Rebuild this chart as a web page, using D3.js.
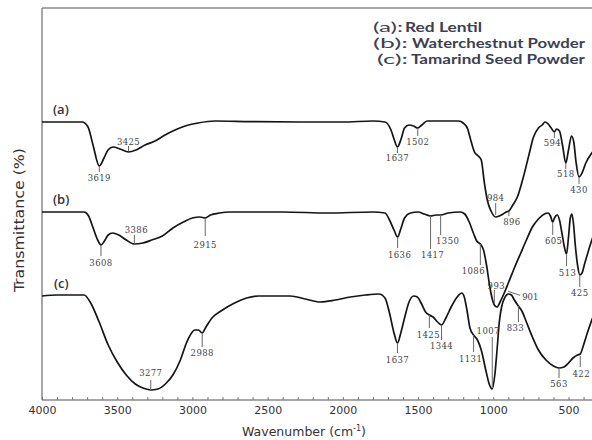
<!DOCTYPE html>
<html><head><meta charset="utf-8">
<script src="https://cdn.jsdelivr.net/npm/d3@7"></script>
<style>
html,body{margin:0;padding:0;background:#fff;}
svg{display:block;}
</style>
</head><body>
<svg id="chart" width="592" height="440"></svg>
<script>
// ---------- DATA (wavenumber cm^-1, transmittance in arbitrary % units) ----------
const seriesNames = ["Red Lentil", "Waterchestnut Powder", "Tamarind Seed Powder"];
const seriesKeys = ["(a)", "(b)", "(c)"];
const xTickLabels = [4000, 3500, 3000, 2500, 2000, 1500, 1000, 500];

const curveA = [
 [4000,69.5],[3734,69.5],[3694,68.25],[3661,63.75],[3619,58.5],[3588,60.5],[3561,62.5],[3528,63.25],
 [3481,62.75],[3425,62],[3375,62.5],[3315,63.75],[3249,64.75],[3182,66.25],[3116,67.5],[3049,68.5],
 [2963,69.25],[2850,69.75],[2617,69.6],[2285,69.5],[2000,69.5],[1800,69.75],[1720,69.5],[1680,67.5],
 [1660,65.25],[1637,63.25],[1615,65],[1590,68],[1560,68.75],[1530,68.5],[1502,68],[1475,68.75],
 [1440,69.75],[1300,69.75],[1230,69.75],[1200,69.25],[1170,67.75],[1150,65],[1125,62],[1100,61],
 [1080,60],[1060,54.5],[1040,50],[1015,47.25],[984,45.75],[960,46],[935,46.5],[915,47],[896,47.25],
 [870,48.75],[840,50.75],[800,55.75],[760,61.75],[735,65.5],[700,68],[675,68.75],[656,69.5],[635,69],
 [615,68],[594,67],[580,67.75],[560,67.25],[540,63.75],[518,59.25],[500,62.5],[480,66],[465,64.5],
 [450,59.5],[430,55.75],[410,56.75],[385,59.25],[340,62],[300,63.75]
];
const curveB = [
 [4000,47],[3720,47],[3690,46],[3660,43],[3630,40],[3608,38.75],[3585,39.75],[3560,41.25],[3530,41.75],
 [3490,41.25],[3440,40],[3386,39],[3330,39.25],[3270,40],[3200,41],[3130,43],[3060,44.5],[3000,45.5],
 [2950,45.75],[2915,45.5],[2880,46.25],[2820,46.75],[2750,47],[2400,47],[2100,46.75],[1800,47],
 [1720,46.75],[1690,45],[1660,42.5],[1636,40.75],[1615,42.75],[1590,45.5],[1550,46.75],[1500,47],
 [1460,46.5],[1417,46],[1380,46.25],[1350,46.25],[1300,46.75],[1220,47],[1190,46.5],[1160,44.5],
 [1130,41.5],[1110,39.75],[1086,39],[1065,37.5],[1045,33.75],[1025,28.75],[1005,25],[993,23.75],
 [975,23.25],[955,24.5],[930,26.5],[900,29.25],[860,33],[820,36.5],[780,40],[740,43.25],[700,45.25],
 [660,46.5],[635,46.75],[620,46],[605,44.5],[590,45.75],[575,46.25],[560,45],[545,42],[530,38.75],
 [513,36.5],[500,40.75],[488,45.5],[478,46.5],[468,44.5],[455,38.75],[440,33.75],[425,31.25],
 [410,31.75],[395,33.75],[370,37],[340,40.5],[300,43.75]
];
const curveC = [
 [4000,26],[3900,26.25],[3720,26.25],[3680,24.5],[3620,19.5],[3560,13.75],[3500,9.5],[3440,6.25],
 [3380,4],[3320,2.875],[3277,2.5],[3230,2.75],[3180,4],[3130,6.25],[3080,10],[3040,14.25],[3010,16.5],
 [2985,17.5],[2960,17.5],[2935,16.75],[2910,18.25],[2870,20.5],[2800,22.5],[2720,24.25],[2640,25.5],
 [2560,26],[2450,26],[2350,26],[2250,25.25],[2150,24.5],[2050,25],[1950,25.75],[1850,26.25],
 [1760,26.5],[1720,25.5],[1690,21.75],[1660,16.75],[1637,14.25],[1615,16.75],[1590,20.5],[1560,24.5],
 [1530,26],[1505,25.75],[1480,24.25],[1450,22],[1425,21.25],[1400,20.75],[1370,19.5],[1344,18.75],
 [1315,20.5],[1280,23.25],[1240,25.75],[1210,26.75],[1195,26],[1175,22.5],[1155,18],[1131,16.25],
 [1105,15],[1080,12.5],[1050,7.5],[1025,3.75],[1007,2.75],[990,6.25],[975,12.5],[960,19.5],
 [945,23.25],[925,25.5],[900,26.5],[880,26.25],[860,25],[833,23.5],[810,22.25],[780,19.5],
 [740,15.75],[700,12.5],[650,10],[600,8.5],[563,8],[530,8.25],[500,9.25],[470,10.5],[440,11.25],
 [422,11.5],[400,13.75],[375,16.75],[340,20.5],[300,23.75]
];

// peak labels: [text, wavenumber where marked]
const peaksA = [["3619",3619],["3425",3425],["1637",1637],["1502",1502],["984",984],["896",896],["594",594],["518",518],["430",430]];
const peaksB = [["3608",3608],["3386",3386],["2915",2915],["1636",1636],["1417",1417],["1350",1350],["1086",1086],["993",993],["901",901],["605",605],["513",513],["425",425]];
const peaksC = [["3277",3277],["2988",2935],["1637",1637],["1425",1425],["1344",1344],["1131",1131],["1007",1007],["833",833],["563",563],["422",422]];

// ---------- LAYOUT (pixel offsets of annotation ticks/texts relative to the curve) ----------
// [tickStartDy, tickEndDy, textDy, textDx]
const layoutA = {"3619":[0,6,12,0],"3425":[-1,-6,-10,0],"1637":[0,6,11,0],"1502":[1,8,14,0],"984":[-2,-14,-19,0],
  "896":[0,5,11,3],"594":[0,6,11,-2],"518":[0,6,11,0],"430":[0,7,13,0]};
const layoutB = {"3608":[0,11,18,0],"3386":[0,-9,-14,2],"2915":[0,18,27,0],"1636":[0,11,18,2],"1417":[0,33,39,2],
  "1350":[0,20,26,7],"1086":[0,21,27,-7],"993":[-1,-15,-19,2],"901":"leader","605":[0,13,19,1],"513":[0,12,19,1],"425":[0,12,18,0]};
const layoutC = {"3277":[0,-10,-17,0],"2988":[0,14,20,0],"1637":[0,10,17,0],"1425":[0,13,20,-1],"1344":[0,15,21,0],
  "1131":[0,17,24,-3],"1007":[-2,-52,-58,-4],"833":[0,16,22,-3],"563":[0,10,16,0],"422":[2,13,20,1]};

const W = 592, H = 440;
const svg = d3.select("#chart");

const x = d3.scaleLinear().domain([4000, 300]).range([42, 42 + 3700*0.15043]);
const y = d3.scaleLinear().domain([0, 98]).range([400, 8]);

// frame
const frameCol = "#8a8a8a";
svg.append("line").attr("x1",42).attr("x2",W).attr("y1",8).attr("y2",8).attr("stroke",frameCol).attr("stroke-width",1.5);
svg.append("line").attr("x1",42).attr("x2",42).attr("y1",8).attr("y2",400).attr("stroke",frameCol).attr("stroke-width",1.5);

// x axis
const minorTicks = d3.range(4000, 399, -100);
const axis = d3.axisBottom(x).tickValues(minorTicks).tickSizeInner(-3).tickSizeOuter(0).tickPadding(6)
  .tickFormat(d => xTickLabels.includes(d) ? d : "");
const gAx = svg.append("g").attr("transform","translate(0,400)").call(axis);
gAx.select(".domain").attr("d", `M42,0H${W}`).attr("stroke", frameCol).attr("stroke-width",1.5);
gAx.selectAll(".tick line").attr("stroke","#777");
gAx.selectAll("text").attr("font-family","DejaVu Sans, Verdana, sans-serif").attr("font-size",11).attr("fill","#333");

// axis titles
const xt = svg.append("text").attr("x",304).attr("y",436).attr("text-anchor","middle")
  .attr("font-family","DejaVu Sans, Verdana, sans-serif").attr("font-size",12.5).attr("fill","#333");
xt.append("tspan").text("Wavenumber (cm");
xt.append("tspan").text("-1").attr("font-size",8).attr("dy",-5);
xt.append("tspan").text(")").attr("dy",5);

svg.append("text").attr("transform","translate(24,220) rotate(-90)").attr("text-anchor","middle")
  .attr("font-family","'DejaVu Sans Condensed', 'Liberation Sans Narrow', sans-serif").attr("font-size",14)
  .attr("fill","#333").attr("textLength",144).attr("lengthAdjust","spacingAndGlyphs").text("Transmittance (%)");

// legend
const legendFont = "Lato, 'Open Sans', sans-serif";
const legendCol = "#3c3f50";
const legendRows = [
  {kx:373, kw:30, nx:405, nw:77, by:32},
  {kx:373, kw:35, nx:412, nw:173, by:48},
  {kx:377, kw:31, nx:411, nw:174, by:64}
];
legendRows.forEach((r,i) => {
  svg.append("text").attr("x",r.kx).attr("y",r.by).attr("font-family",legendFont).attr("font-size",14)
    .attr("fill",legendCol).attr("textLength",r.kw).attr("lengthAdjust","spacingAndGlyphs").text(seriesKeys[i] + ":");
  svg.append("text").attr("x",r.nx).attr("y",r.by).attr("font-family",legendFont).attr("font-size",14)
    .attr("font-weight","bold").attr("fill",legendCol).attr("textLength",r.nw).attr("lengthAdjust","spacingAndGlyphs")
    .text(seriesNames[i]);
});

// curves
const line = d3.line().x(d => x(d[0])).y(d => y(d[1])).curve(d3.curveMonotoneX);
svg.append("clipPath").attr("id","clip").append("rect").attr("x",42).attr("y",8).attr("width",W-42).attr("height",392);
const gPlot = svg.append("g").attr("clip-path","url(#clip)");
[curveA, curveB, curveC].forEach(c => {
  gPlot.append("path").datum(c).attr("d", line).attr("fill","none").attr("stroke","#151515")
    .attr("stroke-width",1.7).attr("stroke-linejoin","round");
});

// curve keys
const keyY = [114, 204, 288];
const keyX = [53, 53, 54];
seriesKeys.forEach((k,i) => {
  svg.append("text").attr("x",keyX[i]).attr("y",keyY[i]).attr("font-family","'Open Sans', Lato, sans-serif")
    .attr("font-size",13).attr("font-weight","600").attr("fill","#333").text(k);
});

// annotations
function valueAt(curve, wn) {
  for (let i = 0; i < curve.length - 1; i++) {
    const a = curve[i], b = curve[i+1];
    if (wn <= a[0] && wn >= b[0]) {
      const t = (a[0] - wn) / (a[0] - b[0]);
      return a[1] + t * (b[1] - a[1]);
    }
  }
  return curve[curve.length-1][1];
}
const annFont = "'DejaVu Serif', serif";
const annCol = "#444";
function annotate(curve, peaks, layout) {
  peaks.forEach(([label, wn]) => {
    const px = x(wn), py = y(valueAt(curve, wn));
    const L = layout[label];
    if (L === "leader") {
      svg.append("line").attr("x1",px).attr("y1",py+8).attr("x2",px+12).attr("y2",py+12)
        .attr("stroke","#666").attr("stroke-width",1);
      svg.append("text").attr("x",px+14).attr("y",py+14).attr("dy","0.35em").attr("font-family",annFont)
        .attr("font-size",8.5).attr("fill",annCol).text(label);
      return;
    }
    svg.append("line").attr("x1",px).attr("x2",px).attr("y1",py+L[0]).attr("y2",py+L[1])
      .attr("stroke","#666").attr("stroke-width",1);
    svg.append("text").attr("x",px+L[3]).attr("y",py+L[2]).attr("dy","0.35em").attr("text-anchor","middle")
      .attr("font-family",annFont).attr("font-size",8.5).attr("letter-spacing",0.4).attr("fill",annCol).text(label);
  });
}
annotate(curveA, peaksA, layoutA);
annotate(curveB, peaksB, layoutB);
annotate(curveC, peaksC, layoutC);
</script>
</body></html>
